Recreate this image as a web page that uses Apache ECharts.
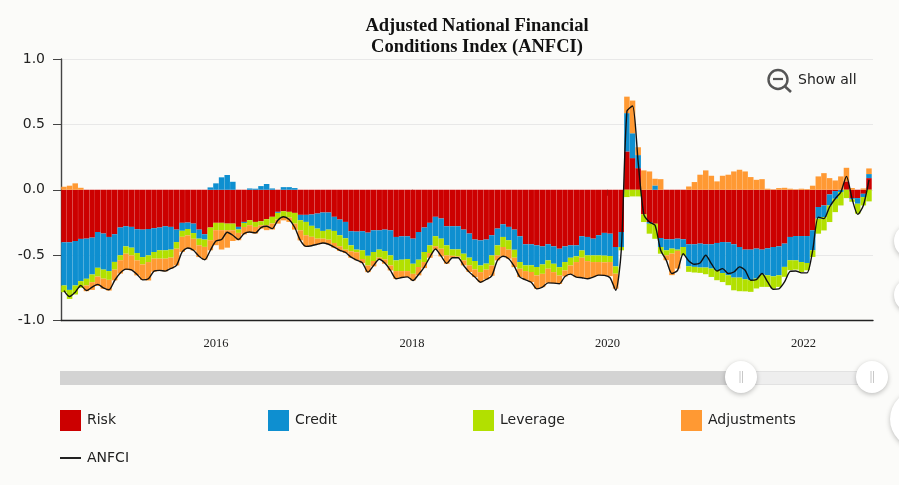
<!DOCTYPE html>
<html><head><meta charset="utf-8">
<style>html,body{margin:0;padding:0;background:#fbfbf9}#c{width:899px;height:485px}</style>
<script src="https://cdn.jsdelivr.net/npm/echarts@6/dist/echarts.min.js"></script>
</head><body><div id="c"></div>
<script>
const risk=[-.402,-.402,-.392,-.376,-.374,-.366,-.323,-.335,-.361,-.340,-.289,-.279,-.284,-.302,-.305,-.300,-.294,-.289,-.279,-.284,-.305,-.253,-.251,-.259,-.305,-.340,-.289,-.253,-.253,-.259,-.259,-.284,-.246,-.233,-.246,-.241,-.225,-.207,-.169,-.164,-.169,-.177,-.192,-.192,-.189,-.182,-.174,-.174,-.207,-.228,-.246,-.317,-.320,-.317,-.328,-.310,-.310,-.305,-.310,-.361,-.356,-.356,-.374,-.323,-.289,-.253,-.207,-.220,-.279,-.279,-.279,-.305,-.335,-.381,-.387,-.381,-.348,-.297,-.264,-.284,-.305,-.356,-.417,-.417,-.425,-.433,-.417,-.433,-.451,-.433,-.425,-.425,-.356,-.361,-.374,-.348,-.33,-.336,-.438,-.323,.293,.242,.165,-.188,-.247,-.260,-.369,-.379,-.379,-.374,-.379,-.417,-.417,-.412,-.417,-.417,-.407,-.400,-.402,-.417,-.438,-.458,-.458,-.450,-.458,-.448,-.438,-.433,-.412,-.361,-.354,-.354,-.354,-.310,-.132,-.120,-.036,-.010,0,.064,-.064,-.064,-.031,.089];
const credit=[-.330,-.364,-.340,-.323,-.307,-.282,-.274,-.276,-.261,-.212,-.212,-.154,-.159,-.182,-.210,-.202,-.182,-.174,-.184,-.174,-.095,-.061,-.049,-.072,-.069,-.041,.018,.049,.095,.113,.061,-.020,-.008,.010,.008,.028,.044,.010,-.008,.020,.020,.013,-.041,-.054,-.087,-.115,-.141,-.131,-.108,-.120,-.125,-.108,-.138,-.146,-.177,-.166,-.148,-.164,-.192,-.179,-.179,-.174,-.192,-.212,-.187,-.172,-.148,-.154,-.146,-.177,-.177,-.184,-.184,-.164,-.192,-.184,-.154,-.128,-.097,-.102,-.154,-.197,-.161,-.161,-.166,-.138,-.123,-.133,-.141,-.120,-.095,-.084,-.108,-.141,-.128,-.154,-.174,-.171,-.148,-.115,.293,.190,.100,0,-.013,.033,-.069,-.084,-.071,-.084,-.059,-.168,-.173,-.183,-.178,-.186,-.209,-.237,-.252,-.255,-.234,-.227,-.234,-.229,-.191,-.206,-.224,-.221,-.178,-.178,-.186,-.199,-.206,-.153,-.089,-.089,-.084,-.059,-.018,0,-.01,-.043,-.025,.031];
const leverage=[-.051,-.069,-.069,-.051,-.051,-.059,-.067,-.069,-.067,-.059,-.038,-.056,-.059,-.056,-.056,-.051,-.051,-.064,-.064,-.061,-.051,-.046,-.049,-.044,-.051,-.056,-.097,-.056,-.056,-.051,-.051,-.026,-.031,-.038,-.038,-.031,-.046,-.051,-.051,-.044,-.044,-.082,-.077,-.102,-.084,-.077,-.059,-.077,-.092,-.084,-.087,-.046,-.020,-.067,-.074,-.069,-.061,-.064,-.077,-.082,-.087,-.092,-.077,-.056,-.077,-.059,-.077,-.077,-.077,-.049,-.054,-.051,-.059,-.064,-.051,-.046,-.077,-.077,-.077,-.072,-.061,-.051,-.044,-.051,-.064,-.072,-.064,-.064,-.064,-.064,-.059,-.044,-.056,-.044,-.051,-.051,-.051,-.046,-.056,-.025,-.056,-.051,-.051,-.059,-.076,-.115,-.051,-.038,-.038,-.010,-.064,-.043,-.043,-.041,-.051,-.064,-.076,-.069,-.076,-.097,-.104,-.092,-.089,-.076,-.094,-.089,-.094,-.089,-.076,-.076,-.071,-.076,-.056,-.051,-.115,-.102,-.127,-.102,-.102,-.064,-.018,-.076,-.064,-.089];
const adjustments=[.023,.031,.049,.015,-.044,-.059,-.072,-.077,-.082,-.082,-.102,-.123,-.115,-.115,-.118,-.141,-.100,-.095,-.097,-.084,-.128,-.115,-.100,-.090,-.090,-.097,-.077,-.115,-.148,-.133,-.082,-.056,-.056,-.054,-.051,-.026,-.038,-.046,-.031,-.026,-.033,-.046,-.077,-.084,-.067,-.044,-.033,-.036,-.036,-.036,-.026,-.049,-.061,-.031,-.051,-.041,-.015,-.033,-.038,-.059,-.051,-.046,-.051,-.064,-.046,-.036,-.026,-.059,-.064,-.015,-.010,-.038,-.051,-.059,-.077,-.074,-.079,-.038,-.072,-.069,-.072,-.064,-.067,-.077,-.102,-.102,-.108,-.084,-.064,-.046,-.067,-.115,-.154,-.136,-.115,-.100,-.102,-.108,-.115,0,.126,.250,.060,.148,.140,.051,.081,-.038,-.165,-.135,0,.025,.059,.115,.148,.107,.064,.107,.115,.140,.153,.140,.097,.076,.081,.008,.003,.013,.015,.008,.003,.008,.005,.031,.102,.127,.089,.071,.102,.104,.013,0,.01,.043];
const anfci=[-.771,-.817,-.783,-.732,-.771,-.745,-.724,-.750,-.765,-.694,-.637,-.607,-.612,-.648,-.689,-.681,-.622,-.617,-.622,-.602,-.579,-.476,-.445,-.463,-.509,-.535,-.463,-.392,-.381,-.325,-.348,-.381,-.335,-.323,-.330,-.289,-.279,-.297,-.233,-.207,-.228,-.289,-.387,-.433,-.428,-.417,-.407,-.417,-.438,-.463,-.479,-.515,-.538,-.558,-.630,-.579,-.532,-.561,-.617,-.681,-.671,-.666,-.694,-.648,-.591,-.515,-.453,-.507,-.563,-.520,-.520,-.579,-.630,-.668,-.707,-.686,-.658,-.540,-.509,-.527,-.586,-.668,-.689,-.707,-.758,-.745,-.712,-.714,-.719,-.663,-.645,-.668,-.673,-.681,-.668,-.653,-.655,-.673,-.769,-.463,.60,.64,.211,-.188,-.247,-.272,-.463,-.540,-.641,-.616,-.489,-.545,-.570,-.560,-.501,-.565,-.621,-.603,-.641,-.629,-.590,-.616,-.692,-.687,-.641,-.705,-.761,-.758,-.705,-.624,-.621,-.636,-.636,-.463,-.209,-.221,-.132,-.069,-.018,.102,-.069,-.188,-.120,.076];
const firstDate=Date.UTC(2014,5,13), stepDays=21;
const dates=risk.map((_,i)=>firstDate+i*stepDays*864e5);
const yearTicks=[2016,2018,2020,2022];
const yTicks={min:-1,max:1,step:.5};
const font='"DejaVu Sans"',serif='"Liberation Serif"';
const pairs=a=>a.map((v,i)=>[dates[i],v]);
const bar=(name,vals,color)=>({name,type:'bar',stack:'a',barWidth:5.5,data:pairs(vals),itemStyle:{color},silent:true,animation:false});
const leg=(name,left,top,h,icon)=>({show:true,data:[name],left,top,orient:'horizontal',itemWidth:21,itemHeight:h,itemGap:6,padding:0,selectedMode:false,icon,textStyle:{fontFamily:font,fontSize:14,color:'#222',padding:[3,0,0,1]}});
const yt=t=>Date.UTC(t,0,1);
const xMin=Date.UTC(2014,5,2),xMax=Date.UTC(2022,8,17);
const barMin=Date.UTC(2014,5,12,6),barMax=Date.UTC(2022,8,6,18);
const chart=echarts.init(document.getElementById('c'),null,{renderer:'canvas'});
const halo={shadowBlur:5,shadowColor:'rgba(0,0,0,.25)',shadowOffsetY:1.5};
chart.setOption({
 backgroundColor:'#fbfbf9',animation:false,
 title:{text:'Adjusted National Financial\nConditions Index (ANFCI)',left:472,top:11,textAlign:'center',textStyle:{fontFamily:serif,fontWeight:'bold',fontSize:18.5,lineHeight:20.5,color:'#111'}},
 grid:{left:61,right:26,top:59,bottom:164.5,containLabel:false},
 legend:[leg('Risk',60,410,21,'rect'),leg('Credit',268,410,21,'rect'),leg('Leverage',473,410,21,'rect'),leg('Adjustments',681,410,21,'rect'),leg('ANFCI',60,451,2,'rect')],
 xAxis:[{type:'time',min:barMin,max:barMax,
   axisLine:{show:true,onZero:false,lineStyle:{color:'#222',width:1.4}},
   axisTick:{show:false},axisLabel:{show:false},splitLine:{show:false}},
  {type:'value',position:'bottom',scale:true,min:xMin,max:xMax,
   axisLine:{show:false},
   axisTick:{show:true,length:6,customValues:yearTicks.map(yt),lineStyle:{color:'#444'}},
   axisLabel:{customValues:yearTicks.map(yt),margin:17,fontFamily:serif,fontSize:12.5,color:'#222',formatter:v=>String(new Date(v).getUTCFullYear()),hideOverlap:false},
   splitLine:{show:false}}],
 yAxis:{type:'value',min:yTicks.min,max:yTicks.max,interval:yTicks.step,
   axisLine:{show:true,onZero:false,lineStyle:{color:'#444',width:1.4}},
   axisTick:{show:true,length:8,lineStyle:{color:'#444'}},
   axisLabel:{fontFamily:font,fontSize:14,color:'#222',margin:16,padding:[2,0,0,0],formatter:v=>v.toFixed(1)},
   splitLine:{show:true,lineStyle:{color:'#e8e8e8',width:1.2}}},
 series:[bar('Risk',risk,'#cc0000'),bar('Credit',credit,'#0e8fd0'),bar('Leverage',leverage,'#b2e000'),bar('Adjustments',adjustments,'#ff9933'),
  {name:'ANFCI',type:'line',data:pairs(anfci),symbol:'none',smooth:.25,clip:false,lineStyle:{color:'#111',width:1.4},itemStyle:{color:'#222'},z:5,silent:true,animation:false}],
 graphic:[
  {type:'rect',shape:{x:60,y:371,width:681,height:14},style:{fill:'#d3d3d3'},silent:true},
  {type:'rect',shape:{x:741,y:371.5,width:131,height:13},style:{fill:'#eeeeee',stroke:'#e2e2e2'},silent:true},
  {type:'circle',shape:{cx:741,cy:377,r:16},style:{fill:'#fff',...halo},silent:true},
  {type:'circle',shape:{cx:872,cy:377,r:16},style:{fill:'#fff',...halo},silent:true},
  {type:'line',shape:{x1:740,y1:371,x2:740,y2:383},style:{stroke:'#c8c8c8'},silent:true},
  {type:'line',shape:{x1:742.5,y1:371,x2:742.5,y2:383},style:{stroke:'#c8c8c8'},silent:true},
  {type:'line',shape:{x1:871,y1:371,x2:871,y2:383},style:{stroke:'#c8c8c8'},silent:true},
  {type:'line',shape:{x1:873.5,y1:371,x2:873.5,y2:383},style:{stroke:'#c8c8c8'},silent:true},
  {type:'circle',shape:{cx:911,cy:241,r:17},style:{fill:'#fff',...halo},silent:true},
  {type:'circle',shape:{cx:911,cy:295,r:17},style:{fill:'#fff',...halo},silent:true},
  {type:'circle',shape:{cx:919,cy:419,r:29},style:{fill:'#fff',...halo},silent:true},
  {type:'circle',shape:{cx:778,cy:79.5,r:9.5},style:{fill:'none',stroke:'#555',lineWidth:2.4},silent:true},
  {type:'line',shape:{x1:773,y1:79,x2:783,y2:79},style:{stroke:'#555',lineWidth:2.2},silent:true},
  {type:'line',shape:{x1:785,y1:86.5,x2:791,y2:92},style:{stroke:'#555',lineWidth:2.6},silent:true},
  {type:'text',left:798,top:73,style:{text:'Show all',fontFamily:font,fontSize:14,fill:'#222'},silent:true}
 ]
});
</script></body></html>
